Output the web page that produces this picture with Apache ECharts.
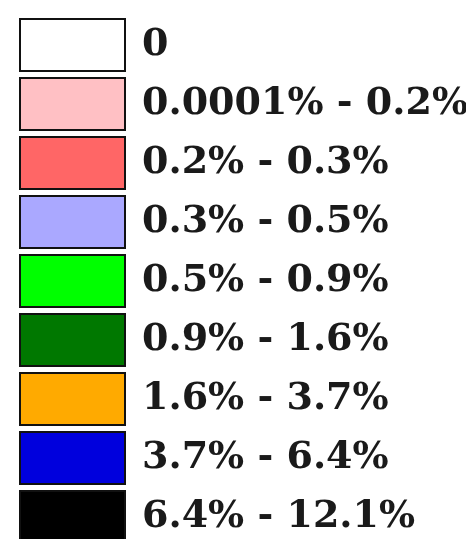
<!DOCTYPE html>
<html>
<head>
<meta charset="utf-8">
<script src="https://cdn.jsdelivr.net/npm/echarts@6/dist/echarts.min.js"></script>
<style>
html,body{margin:0;padding:0;background:#fff;}
#chart{width:466px;height:539px;}
</style>
</head>
<body>
<div id="chart"></div>
<script>
// Legend classes (labels) and their fill colours
var classLabels = ['0', '0.0001% - 0.2%', '0.2% - 0.3%', '0.3% - 0.5%', '0.5% - 0.9%', '0.9% - 1.6%', '1.6% - 3.7%', '3.7% - 6.4%', '6.4% - 12.1%'];
var classColors = ['#ffffff', '#ffc0c4', '#ff6666', '#aaa8ff', '#00ff00', '#007800', '#ffaa00', '#0000dd', '#000000'];

var chart = echarts.init(document.getElementById('chart'));
var series = classLabels.map(function (name, i) {
  return { name: name, type: 'bar', data: [], itemStyle: { color: classColors[i] } };
});
chart.setOption({
  animation: false,
  backgroundColor: '#ffffff',
  grid: { left: 0, right: 0, top: 0, bottom: 0, show: false },
  xAxis: { type: 'category', show: false, data: [] },
  yAxis: { type: 'value', show: false },
  legend: {
    orient: 'vertical',
    left: 19,
    top: 18,
    height: 800,
    padding: 0,
    icon: 'rect',
    itemWidth: 105,
    itemHeight: 52,
    itemGap: 5,
    selectedMode: false,
    itemStyle: { borderColor: '#111111', borderWidth: 2 },
    textStyle: {
      fontFamily: 'DejaVu Serif',
      fontWeight: 'bold',
      fontSize: 38,
      lineHeight: 32,
      color: '#1a1a1a',
      padding: [0, 0, 17, 12]
    },
    data: classLabels
  },
  series: series
});
</script>
</body>
</html>
